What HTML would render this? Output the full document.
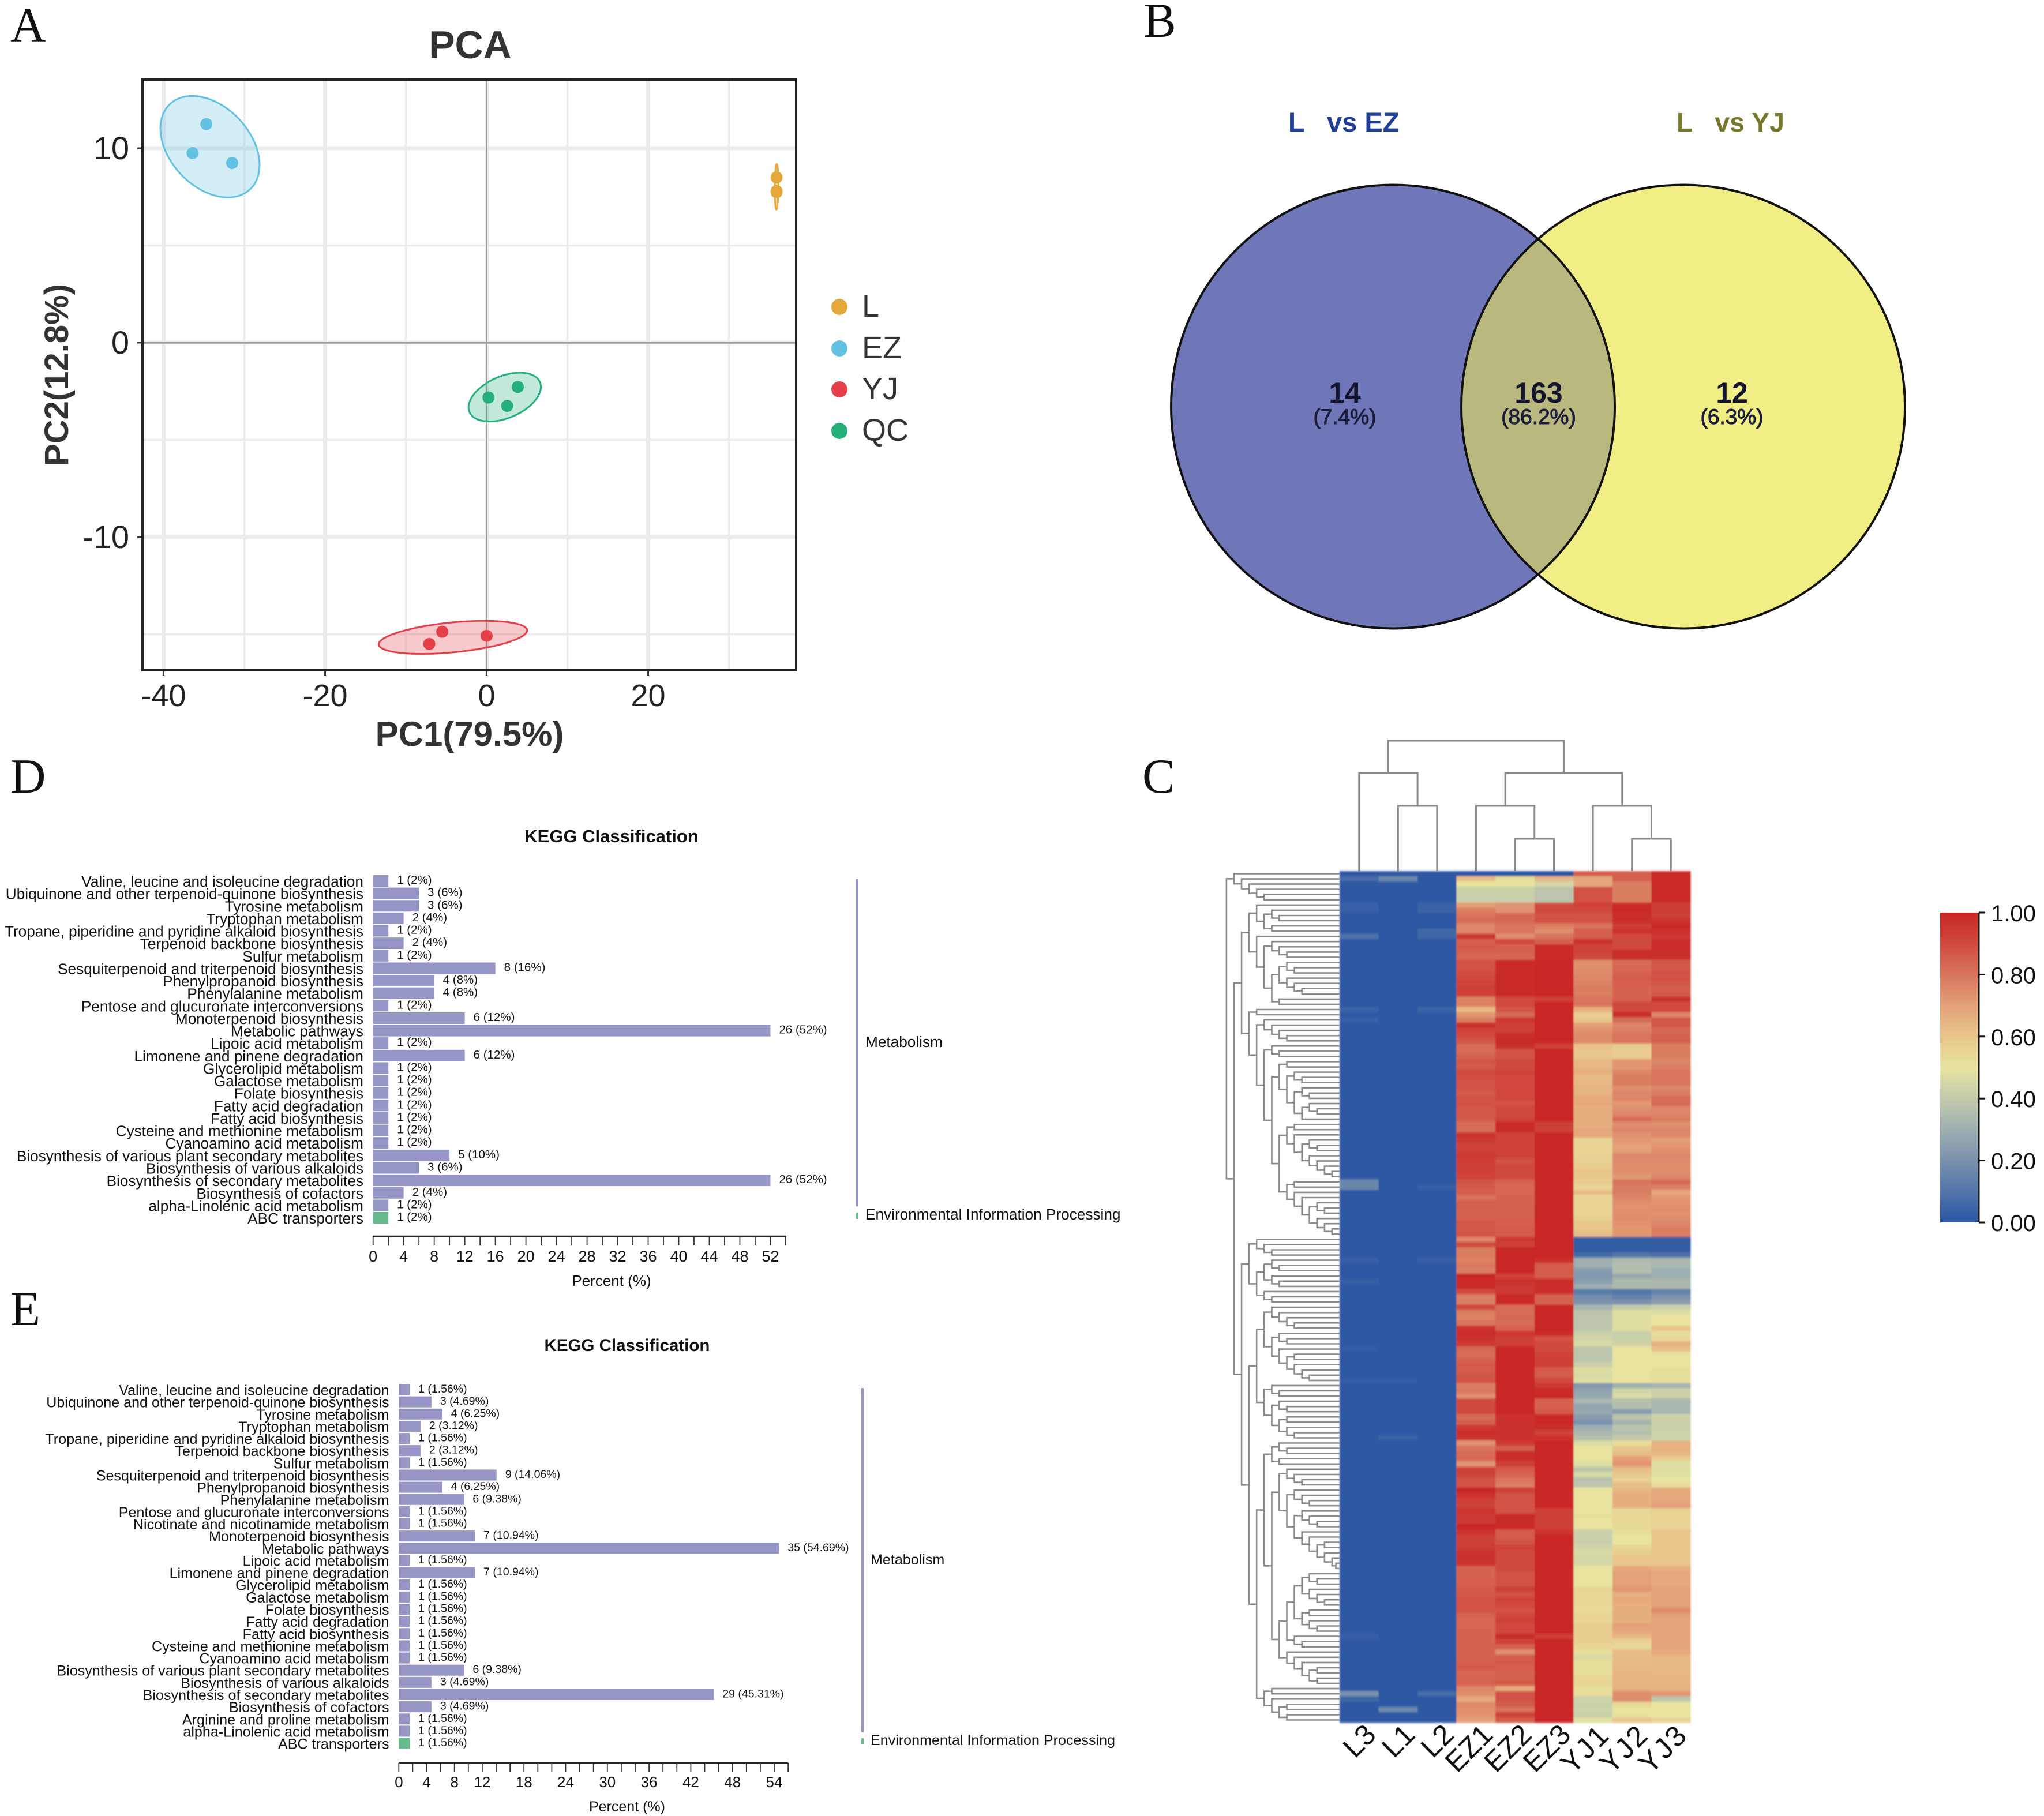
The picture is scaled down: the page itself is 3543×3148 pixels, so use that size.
<!DOCTYPE html>
<html lang="en">
<head>
<meta charset="utf-8">
<title>Metabolomics composite figure</title>
<style>
  html,body{margin:0;padding:0;background:#fff;}
  svg{display:block;}
  text{font-family:"Liberation Sans",Arial,sans-serif;}
  .serif{font-family:"Liberation Serif",serif;}
</style>
</head>
<body>
<svg id="figure" xmlns="http://www.w3.org/2000/svg" width="3543" height="3148" viewBox="0 0 3543 3148">
  <defs>
    <filter id="softCells" x="-2%" y="-2%" width="104%" height="104%"><feGaussianBlur stdDeviation="1 1.8"/></filter>
  </defs>
  <rect width="3543" height="3148" fill="#fff"/>
  <text class="serif" x="18" y="72" font-size="85" fill="#111">A</text>
  <text class="serif" x="1982" y="64" font-size="85" fill="#111">B</text>
  <text class="serif" x="1980" y="1374" font-size="85" fill="#111">C</text>
  <text class="serif" x="18" y="1374" font-size="85" fill="#111">D</text>
  <text class="serif" x="18" y="2297" font-size="85" fill="#111">E</text>
  <g id="pca"></g>
  <g id="venn"></g>
  <g id="heat"></g>
  <g id="keggD"></g>
  <g id="keggE"></g>
</svg>
<script>
/* ---------- PCA data ---------- */
const pcaGroups = ['L','EZ','YJ','QC'];
const pcaColors = ['#e5a83b','#63c2e2','#e5404a','#25b07a'];
const pcaPc1L  = [35.9,35.9,35.9];
const pcaPc2L  = [8.5,7.74,7.8];
const pcaPc1EZ = [-34.7,-36.4,-31.5];
const pcaPc2EZ = [11.24,9.75,9.24];
const pcaPc1YJ = [-5.5,-7.1,0];
const pcaPc2YJ = [-14.87,-15.5,-15.08];
const pcaPc1QC = [3.86,0.23,2.55];
const pcaPc2QC = [-2.28,-2.82,-3.25];
/* confidence ellipses: centre x, centre y, half width, half height, correlation */
const ellipseL  = [35.9,8.02,0.22,1.17,0.1];
const ellipseEZ = [-34.25,10.08,6.14,2.61,-0.36];
const ellipseYJ = [-4.17,-15.16,9.19,0.85,0.42];
const ellipseQC = [2.24,-2.8,4.48,1.256,0.42];
const pcaXMajor = [-40,-20,0,20];
const pcaXMinor = [-30,-10,10,30];
const pcaYMajor = [10,0,-10];
const pcaYMinor = [5,-5,-15];

/* ---------- Venn data ---------- */
const vennSets = ['L   vs EZ','L   vs YJ'];
const vennCounts = [14,163,12];
const vennPercents = ['(7.4%)','(86.2%)','(6.3%)'];

/* ---------- Heatmap data (163 rows, top to bottom) ---------- */
const heatColumns = ['L3','L1','L2','EZ1','EZ2','EZ3','YJ1','YJ2','YJ3'];
const heatBase = 0.01;
const heatL3Raised = [[1,.07],[6,.03],[7,.03],[12,.09],[26,.04],[28,.03],[59,.16],[60,.16],[74,.03],[78,.03],[91,.02],[97,.02],[146,.03],[157,.2],[158,.05]];
const heatL1Raised = [[1,.16],[97,.02],[108,.04],[160,.17]];
const heatL2Raised = [[6,.04],[7,.04],[11,.05],[12,.05],[26,.04],[60,.03],[74,.03],[157,.07]];
const heatEZ1 = [0,.62,.5,.42,.42,.42,.7,.78,.8,.82,
.76,.76,.97,.85,.86,.85,.83,.88,.88,.89,
.9,.92,.93,.93,.77,.77,.63,.72,.78,.98,
.92,.9,.87,.82,.82,.84,.87,.86,.9,.89,
.88,.88,.86,.88,.88,.87,.87,.86,.82,.82,
.97,.95,.92,.93,.95,.94,.93,.93,.92,.87,
.86,.85,.8,.85,.85,.84,.85,.87,.87,.88,
.76,.9,.78,.78,.77,.79,.78,1,.99,.99,
.9,.77,.78,.9,.78,.77,.8,.97,.98,.97,
.95,.83,.82,.84,.86,.86,.87,.88,.78,.79,
.74,.9,.9,.9,.82,.85,.95,.98,.97,.73,
.8,.82,.83,.72,.93,.92,.88,.88,1,.97,
.93,.92,.96,.95,.95,1,.97,.93,.93,.94,
.97,.97,.97,.84,.84,.84,.85,.86,.87,.88,
.88,.88,.84,.83,.83,.84,.84,.84,.84,.84,
.84,.85,.86,.83,.84,.84,.76,.74,.68,.75,
.74,.73,.7];
const heatEZ2 = [0,.52,.5,.42,.42,.42,.73,.73,.83,.83,
.8,.8,.74,.9,.85,.85,.83,.99,.99,.99,
.99,.99,.99,.99,.9,.9,.87,.82,.95,.93,
.93,.98,.99,.98,.88,.88,.9,.9,.92,.91,
.91,.91,.91,.9,.88,.9,.9,.92,.99,.99,
.92,.92,.92,.92,.92,.88,.9,.9,.9,.84,
.83,.83,.84,.84,.85,.84,.85,.85,.86,.86,
.95,.93,1,1,1,1,1,.92,.97,.95,
.95,.99,.99,.82,.82,.83,.82,.84,.95,.93,
.93,1,1,1,1,1,1,1,1,1,
1,1,1,1,.97,.97,.97,.97,.97,.95,
.85,.98,.98,.93,.86,.84,.8,.78,.92,.88,
.88,.88,.88,.99,.99,.99,.86,.86,.88,.92,
.9,.9,.9,.9,.88,.88,.88,.94,.88,.92,
.9,.88,.91,.92,.91,.91,.98,.92,.85,.74,
.86,.86,.85,.84,.85,.86,.68,.88,.88,.86,
.8,.92,.86];
const heatEZ3 = [0,.64,.45,.38,.38,.38,.9,.9,.88,.88,
.78,.74,.8,.85,.99,.99,.99,1,1,1,
1,1,1,1,.93,1,1,1,1,1,
1,1,1,.93,1,1,1,1,1,1,
1,1,1,1,1,1,1,1,.93,.93,
1,1,1,1,1,1,1,1,1,1,
1,1,1,1,1,1,1,1,1,1,
1,1,1,1,.98,.86,.86,.86,.98,.98,
.98,.84,.84,1,1,1,1,1,.99,.88,
.9,.9,.92,.93,.93,.86,.86,.9,.95,.99,
.99,.85,.84,.86,1,.99,.98,.92,.97,1,
1,1,1,1,1,1,1,1,1,1,
1,1,.93,.93,.93,.93,.96,1,1,1,
1,1,1,1,1,1,1,1,1,1,
1,1,1,1,1,1,.93,1,1,1,
1,1,1,1,1,1,1,1,1,1,
1,1,1];
const heatYJ1 = [.85,.68,.68,.88,.88,.88,.92,.9,.88,.88,
.8,.85,.85,.97,.92,.92,.9,.74,.74,.75,
.76,.77,.78,.78,.8,.8,.66,.58,.6,.7,
.73,.75,.75,.61,.6,.6,.64,.64,.66,.63,
.64,.65,.65,.67,.67,.66,.66,.66,.66,.68,
.68,.55,.55,.55,.56,.57,.58,.6,.6,.58,
.55,.62,.55,.55,.55,.55,.57,.6,.6,.62,
.02,.02,.02,.06,.3,.3,.24,.22,.24,.3,
.12,.18,.2,.32,.38,.38,.38,.38,.42,.44,
.46,.38,.38,.38,.42,.47,.46,.47,.22,.26,
.28,.33,.27,.28,.24,.2,.3,.33,.36,.46,
.5,.5,.5,.48,.38,.46,.37,.38,.5,.5,
.5,.5,.5,.52,.5,.5,.42,.42,.42,.44,
.46,.45,.45,.5,.5,.5,.5,.55,.54,.54,
.54,.53,.55,.55,.58,.58,.58,.57,.55,.52,
.46,.52,.52,.52,.54,.55,.52,.52,.43,.42,
.43,.42,.48];
const heatYJ2 = [.85,.85,.78,.78,.78,.78,.99,.99,.98,.98,
.93,.97,.9,.9,.9,.98,.98,.82,.83,.84,
.86,.85,.84,.84,.85,.9,.9,.98,.82,.76,
.78,.8,.8,.58,.58,.58,.72,.72,.76,.78,
.78,.74,.76,.76,.72,.74,.76,.82,.74,.76,
.73,.72,.7,.7,.76,.75,.74,.74,.72,.8,
.78,.78,.76,.74,.73,.74,.74,.73,.72,.72,
.02,.02,.02,.1,.34,.36,.36,.28,.34,.34,
.1,.14,.2,.4,.48,.48,.48,.48,.42,.42,
.43,.5,.5,.5,.5,.5,.5,.5,.3,.44,
.46,.36,.36,.24,.38,.32,.38,.36,.4,.52,
.6,.62,.7,.72,.62,.6,.56,.62,.64,.66,
.66,.66,.54,.54,.54,.54,.52,.5,.5,.55,
.58,.6,.6,.68,.7,.7,.7,.72,.66,.68,
.66,.66,.66,.66,.7,.68,.64,.56,.54,.62,
.63,.63,.64,.65,.65,.65,.66,.74,.74,.54,
.5,.5,.6];
const heatYJ3 = [.99,.99,.99,.99,.99,.99,.94,.94,.93,.97,
.99,.97,.95,.98,.98,.98,.98,.87,.87,.88,
.88,.87,.86,.86,.97,.9,.9,.76,.87,.87,
.83,.84,.85,.78,.78,.78,.76,.78,.8,.8,
.8,.76,.78,.82,.82,.76,.76,.78,.74,.76,
.76,.7,.72,.74,.76,.75,.74,.74,.76,.82,
.78,.68,.72,.73,.74,.73,.74,.76,.78,.78,
.02,.02,.02,.08,.33,.33,.3,.3,.33,.33,
.14,.2,.24,.42,.47,.5,.5,.6,.52,.54,
.66,.62,.5,.5,.5,.52,.52,.52,.32,.42,
.42,.33,.33,.33,.43,.42,.42,.43,.43,.65,
.66,.64,.58,.48,.48,.48,.5,.52,.68,.68,
.68,.7,.56,.56,.56,.56,.6,.6,.6,.6,
.6,.6,.6,.66,.68,.68,.68,.7,.7,.7,
.7,.75,.7,.69,.69,.69,.69,.69,.69,.68,
.64,.64,.64,.64,.65,.65,.66,.72,.38,.5,
.5,.5,.56];
const colorbarValues = [0,.1,.2,.3,.4,.5,.6,.7,.8,.9,1];
const colorbarColors = ['#2b55a3','#5376a9','#7a92ad','#9eafb0','#c2cbab','#e8e4a0','#e8c68c','#e4a077','#d8755c','#d04a3e','#c92825'];
const colorbarTicks = ['0.00','0.20','0.40','0.60','0.80','1.00'];

/* dendrograms: nodes are [level, childA, childB]; 0 is a leaf */
const colDendrogram = [4,[3,0,[2,0,0]],[3,[2,0,[1,0,0]],[2,0,[1,0,0]]]];
const rowCluster1 = [14,0,[13,0,[12,0,[11,0,[10,0,0]]]]];
const rowT1 = [12,[11,0,[10,[9,0,[8,0,0]],[9,0,0]]],[11,0,[10,[9,0,[8,0,[7,0,0]]],[9,[8,[7,0,[6,0,0]],[7,0,[6,0,[5,0,0]]]],[8,0,0]]]]];
const rowT2 = [12,[11,0,0],[11,[10,0,[9,0,[8,0,[7,0,0]]]],[10,[9,0,[8,0,0]],[9,
  [8,[7,0,0],[7,[6,0,[5,0,0]],[6,[5,0,[4,0,0]],[5,[4,0,[3,0,0]],0]]]],
  [8,[7,[6,0,0],[6,0,[5,[4,0,[3,0,0]],[4,0,[3,0,[2,0,[1,0,0]]]]]]],[7,[6,0,0],[6,0,[5,0,[4,[3,0,[2,0,0]],[3,0,[2,0,[1,0,0]]]]]]]]
]]]];
const rowUA = [12,[11,0,[10,0,[9,0,0]]],[11,[10,[9,0,[8,0,0]],[9,0,[8,0,0]]],[10,0,[9,0,0]]]];
const rowV = [11,[10,[9,0,[8,0,[7,0,[6,0,0]]]],[9,[8,0,[7,0,0]],[8,0,[7,[6,0,0],[6,0,[5,0,[4,0,0]]]]]]],[10,[9,0,[8,0,0]],[9,[8,0,[7,0,0]],[8,[7,0,0],[7,0,[6,0,0]]]]]];
const rowXTop = [8,[7,0,[6,0,[5,0,0]]],[7,[6,0,[5,0,[4,0,0]]],[6,[5,0,[4,0,[3,0,0]]],[5,0,[4,0,[3,[2,0,0],[2,0,[1,0,[.5,0,0]]]]]]]]];
const rowXBottom = [8,[7,[6,[5,[4,0,[3,0,0]],[4,0,[3,0,[2,0,0]]]],[5,[4,0,0],[4,0,[3,0,0]]]],[6,0,[5,0,0]]],[7,0,[6,0,[5,0,[4,[3,0,0],[3,0,0]]]]]];
const rowW = [11,[10,[9,[8,0,[7,0,0]],[8,0,0]],[9,rowXTop,rowXBottom]],[10,[9,0,0],[9,0,[8,[7,0,0],[7,0,0]]]]];
const rowDendrogram = [15,rowCluster1,[14,[13,rowT1,rowT2],[13,rowUA,[12,rowV,rowW]]]];

/* ---------- KEGG panel D data ---------- */
const keggDLabels = ['Valine, leucine and isoleucine degradation','Ubiquinone and other terpenoid-quinone biosynthesis','Tyrosine metabolism','Tryptophan metabolism','Tropane, piperidine and pyridine alkaloid biosynthesis','Terpenoid backbone biosynthesis','Sulfur metabolism','Sesquiterpenoid and triterpenoid biosynthesis','Phenylpropanoid biosynthesis','Phenylalanine metabolism','Pentose and glucuronate interconversions','Monoterpenoid biosynthesis','Metabolic pathways','Lipoic acid metabolism','Limonene and pinene degradation','Glycerolipid metabolism','Galactose metabolism','Folate biosynthesis','Fatty acid degradation','Fatty acid biosynthesis','Cysteine and methionine metabolism','Cyanoamino acid metabolism','Biosynthesis of various plant secondary metabolites','Biosynthesis of various alkaloids','Biosynthesis of secondary metabolites','Biosynthesis of cofactors','alpha-Linolenic acid metabolism','ABC transporters'];
const keggDCounts = [1,3,3,2,1,2,1,8,4,4,1,6,26,1,6,1,1,1,1,1,1,1,5,3,26,2,1,1];
const keggDPercents = [2,6,6,4,2,4,2,16,8,8,2,12,52,2,12,2,2,2,2,2,2,2,10,6,52,4,2,2];
const keggDTicks = [0,4,8,12,16,20,24,28,32,36,40,44,48,52];

/* ---------- KEGG panel E data ---------- */
const keggELabels = ['Valine, leucine and isoleucine degradation','Ubiquinone and other terpenoid-quinone biosynthesis','Tyrosine metabolism','Tryptophan metabolism','Tropane, piperidine and pyridine alkaloid biosynthesis','Terpenoid backbone biosynthesis','Sulfur metabolism','Sesquiterpenoid and triterpenoid biosynthesis','Phenylpropanoid biosynthesis','Phenylalanine metabolism','Pentose and glucuronate interconversions','Nicotinate and nicotinamide metabolism','Monoterpenoid biosynthesis','Metabolic pathways','Lipoic acid metabolism','Limonene and pinene degradation','Glycerolipid metabolism','Galactose metabolism','Folate biosynthesis','Fatty acid degradation','Fatty acid biosynthesis','Cysteine and methionine metabolism','Cyanoamino acid metabolism','Biosynthesis of various plant secondary metabolites','Biosynthesis of various alkaloids','Biosynthesis of secondary metabolites','Biosynthesis of cofactors','Arginine and proline metabolism','alpha-Linolenic acid metabolism','ABC transporters'];
const keggECounts = [1,3,4,2,1,2,1,9,4,6,1,1,7,35,1,7,1,1,1,1,1,1,1,6,3,29,3,1,1,1];
const keggEPercents = [1.56,4.69,6.25,3.12,1.56,3.12,1.56,14.06,6.25,9.38,1.56,1.56,10.94,54.69,1.56,10.94,1.56,1.56,1.56,1.56,1.56,1.56,1.56,9.38,4.69,45.31,4.69,1.56,1.56,1.56];
const keggETicks = [0,4,8,12,18,24,30,36,42,48,54];

/* ---------- helpers ---------- */
const NS = 'http://www.w3.org/2000/svg';
function mk(tag, attrs, parent, txt){
  const e = document.createElementNS(NS, tag);
  for (const k in attrs) e.setAttribute(k, attrs[k]);
  if (txt !== undefined) e.textContent = txt;
  parent.appendChild(e);
  return e;
}

/* ---------- PCA ---------- */
(function(){
  const g = document.getElementById('pca');
  const X = v => 843.5 + 14 * v;
  const Y = v => 594 - 33.7 * v;
  const L = 247, R = 1380, T = 138, B = 1162;
  pcaXMinor.forEach(v => {
    const e = mk('line',{x1:X(v),x2:X(v),y1:T,y2:B,stroke:'#ececec','stroke-width':3.5},g);
    
    
  });
  pcaYMinor.forEach(v => {
    const e = mk('line',{x1:L,x2:R,y1:Y(v),y2:Y(v),stroke:'#ececec','stroke-width':3.5},g);
    
    
  });
  pcaXMajor.forEach(v => {
    const e = mk('line',{x1:X(v),x2:X(v),y1:T,y2:B,stroke:'#ececec','stroke-width':7},g);
    
    
    const t = mk('line',{x1:X(v),x2:X(v),y1:B,y2:B+9,stroke:'#333','stroke-width':3},g);
    
    
    const l = mk('text',{x:X(v),y:1224,'text-anchor':'middle','font-size':54,fill:'#222'},g,String(v));
    
    
  });
  pcaYMajor.forEach(v => {
    const e = mk('line',{x1:L,x2:R,y1:Y(v),y2:Y(v),stroke:'#ececec','stroke-width':7},g);
    
    
    const t = mk('line',{x1:L-9,x2:L,y1:Y(v),y2:Y(v),stroke:'#333','stroke-width':3},g);
    
    
    const l = mk('text',{x:224,y:Y(v)+19,'text-anchor':'end','font-size':56,fill:'#222'},g,String(v));
    
    
  });
  const zx = mk('line',{x1:X(0),x2:X(0),y1:T,y2:B,stroke:'#9a9a9a','stroke-width':3},g);
  
  
  const zy = mk('line',{x1:L,x2:R,y1:Y(0),y2:Y(0),stroke:'#9a9a9a','stroke-width':3.5},g);
  
  

  const ell = [ellipseL,ellipseEZ,ellipseYJ,ellipseQC];
  const xs = [pcaPc1L,pcaPc1EZ,pcaPc1YJ,pcaPc1QC];
  const ys = [pcaPc2L,pcaPc2EZ,pcaPc2YJ,pcaPc2QC];
  pcaGroups.forEach((name,i) => {
    const p = ell[i]; let pts = [];
    const q = Math.sqrt(1 - p[4]*p[4]);
    for (let a = 0; a < 72; a++){
      const t = a / 72 * 2 * Math.PI;
      pts.push(X(p[0] + p[2]*Math.cos(t)).toFixed(1) + ',' + Y(p[1] + p[3]*(p[4]*Math.cos(t) + q*Math.sin(t))).toFixed(1));
    }
    const e = mk('polygon',{points:pts.join(' '),fill:pcaColors[i],'fill-opacity':.28,stroke:pcaColors[i],'stroke-width':3},g);
    
    
    xs[i].forEach((x,j) => {
      const c = mk('circle',{cx:X(x),cy:Y(ys[i][j]),r:10.5,fill:pcaColors[i]},g);
      
      
    });
    const ly = [532,604,675,747][i];
    const lc = mk('circle',{cx:1455,cy:ly,r:14,fill:pcaColors[i]},g);
    
    
    const lt = mk('text',{x:1494,y:ly+17,'font-size':54,fill:'#333'},g,name);
    
    
  });
  const f = mk('rect',{x:L,y:T,width:R-L,height:B-T,fill:'none',stroke:'#222','stroke-width':4},g);
  
  
  const tt = mk('text',{x:815,y:101,'text-anchor':'middle','font-size':68,'font-weight':'bold',fill:'#333'},g,'PCA');
  
  
  const xt = mk('text',{x:814,y:1293,'text-anchor':'middle','font-size':60,'font-weight':'bold',fill:'#333'},g,'PC1(79.5%)');
  
  
  const yt = mk('text',{x:0,y:0,'text-anchor':'middle','font-size':58,'font-weight':'bold',fill:'#333',transform:'translate(118,650) rotate(-90)'},g,'PC2(12.8%)');
  
  
})();

/* ---------- Venn ---------- */
(function(){
  const g = document.getElementById('venn');
  const cl = {cx:2414.5,cy:705,r:384.5}, cr = {cx:2917.5,cy:705,r:384.5};
  const a = mk('circle',{cx:cl.cx,cy:cl.cy,r:cl.r,fill:'#7077b8'},g);
  
  
  const b = mk('circle',{cx:cr.cx,cy:cr.cy,r:cr.r,fill:'#f1ee85'},g);
  
  
  const cp = mk('clipPath',{id:'vennClip'},g);
  mk('circle',{cx:cl.cx,cy:cl.cy,r:cl.r},cp);
  const o = mk('circle',{cx:cr.cx,cy:cr.cy,r:cr.r,fill:'#b8b87f','clip-path':'url(#vennClip)'},g);
  
  
  const s1 = mk('circle',{cx:cl.cx,cy:cl.cy,r:cl.r,fill:'none',stroke:'#111','stroke-width':4},g);
  
  
  const s2 = mk('circle',{cx:cr.cx,cy:cr.cy,r:cr.r,fill:'none',stroke:'#111','stroke-width':4},g);
  
  
  const t1 = mk('text',{x:2233,y:228,'font-size':47,'font-weight':'bold',fill:'#1f3f98',style:'white-space:pre'},g,vennSets[0]);
  
  
  const t2 = mk('text',{x:2906,y:228,'font-size':46.5,'font-weight':'bold',fill:'#77782a',style:'white-space:pre'},g,vennSets[1]);
  
  
  const cx = [2331,2667,3002];
  vennCounts.forEach((v,i) => {
    const n = mk('text',{x:cx[i],y:698,'text-anchor':'middle','font-size':50,'font-weight':'bold',fill:'#14142e'},g,String(v));
    
    
    const p = mk('text',{x:cx[i],y:735,'text-anchor':'middle','font-size':37,fill:'#1c1c3c',stroke:'#1c1c3c','stroke-width':1},g,vennPercents[i]);
    
    
  });
})();

/* ---------- Heatmap ---------- */
(function(){
  const g = document.getElementById('heat');
  const L = 2322, Rt = 2930, T = 1510, B = 2986;
  const nRows = heatEZ1.length;
  const cw = (Rt - L) / heatColumns.length, rh = (B - T) / nRows;
  const colX = i => L + i * cw;
  const rowY = i => T + i * rh;
  function lookup(list, r){ const f = list.find(p => p[0] === r); return f ? f[1] : heatBase; }
  function mix(v){
    v = Math.max(0, Math.min(1, v));
    const k = Math.min(colorbarValues.length - 2, Math.floor(v * 10));
    const t = (v - colorbarValues[k]) / (colorbarValues[k+1] - colorbarValues[k]);
    const hex = (s,a) => parseInt(s.substr(a,2),16);
    const c = [1,3,5].map(a => Math.round(hex(colorbarColors[k],a) + t*(hex(colorbarColors[k+1],a) - hex(colorbarColors[k],a))));
    return 'rgb(' + c.join(',') + ')';
  }
  const dataCols = [
    r => lookup(heatL3Raised,r), r => lookup(heatL1Raised,r), r => lookup(heatL2Raised,r),
    r => heatEZ1[r], r => heatEZ2[r], r => heatEZ3[r], r => heatYJ1[r], r => heatYJ2[r], r => heatYJ3[r]
  ];
  const cells = mk('g',{filter:'url(#softCells)'},g);
  
  
  dataCols.forEach((fn,c) => {
    for (let r = 0; r < nRows; r++){
      const e = mk('rect',{x:colX(c),y:rowY(r),width:cw+.5,height:rh+.5,fill:mix(fn(r)),'shape-rendering':'crispEdges'},cells);
      
      
    }
  });
  heatColumns.forEach((name,c) => {
    const t = mk('text',{x:0,y:0,'text-anchor':'end','font-size':50,fill:'#111','letter-spacing':name[0]==='Y'?3:0,transform:'translate(' + (colX(c)+cw/2+32) + ',3010) rotate(-45)'},g,name);
    
    
  });

  /* dendrogram drawing */
  let pathC = '', leaf = 0;
  function walkCol(node){
    if (node === 0){ const x = colX(leaf) + cw/2; leaf++; return {p:x, h:T}; }
    const a = walkCol(node[1]), b = walkCol(node[2]);
    const y = [1510,1454,1397,1340,1284][node[0]];
    pathC += 'M' + a.p + ' ' + a.h + 'V' + y + 'H' + b.p + 'V' + b.h;
    return {p:(a.p + b.p)/2, h:y};
  }
  walkCol(colDendrogram);
  const dc = mk('path',{d:pathC,fill:'none',stroke:'#8a8a8a','stroke-width':3},g);
  
  

  let pathR = ''; leaf = 0;
  function walkRow(node){
    if (node === 0){ const y = rowY(leaf) + rh/2; leaf++; return {p:y, h:L}; }
    const a = walkRow(node[1]), b = walkRow(node[2]);
    const x = L - node[0] * 13.07;
    pathR += 'M' + a.h + ' ' + a.p.toFixed(1) + 'H' + x.toFixed(1) + 'V' + b.p.toFixed(1) + 'H' + b.h;
    return {p:(a.p + b.p)/2, h:x.toFixed(1)};
  }
  walkRow(rowDendrogram);
  const dr = mk('path',{d:pathR,fill:'none',stroke:'#8a8a8a','stroke-width':2.6},g);
  
  

  /* colour bar */
  const CT = 1582, CB = 2119;
  const defs = mk('defs',{},g);
  const lg = mk('linearGradient',{id:'cbar',x1:0,y1:1,x2:0,y2:0},defs);
  colorbarValues.forEach((v,i) => mk('stop',{offset:v,'stop-color':colorbarColors[i]},lg));
  const cb = mk('rect',{x:3363,y:CT,width:67,height:CB-CT,fill:'url(#cbar)'},g);
  
  
  const ax = mk('line',{x1:3430,x2:3430,y1:CT,y2:CB,stroke:'#111','stroke-width':3},g);
  
  
  colorbarTicks.forEach(s => {
    const y = CB - parseFloat(s) * (CB - CT);
    const t = mk('line',{x1:3430,x2:3441,y1:y,y2:y,stroke:'#111','stroke-width':3},g);
    
    
    const l = mk('text',{x:3451,y:y+15,'font-size':40,fill:'#111'},g,s);
    
    
  });
})();

/* ---------- KEGG bars ---------- */
function drawKegg(g, labels, counts, percents, ticks, o){
  const n = labels.length;
  const X = v => o.x0 + o.pxPerPct * v;
  const Y = i => o.y0 + i * o.step;
  const title = mk('text',{x:o.cx,y:o.titleY,'text-anchor':'middle','font-size':o.titleSize,'font-weight':'bold',fill:'#111'},g,'KEGG Classification');
  
  
  labels.forEach((lab,i) => {
    const isEnv = i === n - 1;
    const b = mk('rect',{x:X(0),y:Y(i)-o.barH/2,width:X(percents[i])-X(0),height:o.barH,fill:isEnv?'#66bb8c':'#9696c6'},g);
    
    
    const t = mk('text',{x:o.labelX,y:Y(i)+o.labelDy,'text-anchor':'end','font-size':o.labelSize,fill:'#111'},g,lab);
    
    
    const v = mk('text',{x:X(percents[i])+15,y:Y(i)+5,'font-size':o.valueSize,fill:'#111'},g,counts[i] + ' (' + percents[i] + '%)');
    
    
  });
  const ax = mk('line',{x1:X(0),x2:X(o.max),y1:o.axisY,y2:o.axisY,stroke:'#222','stroke-width':2.5},g);
  
  
  for (let v = 0; v <= o.max; v += 2){
    const t = mk('line',{x1:X(v),x2:X(v),y1:o.axisY,y2:o.axisY+16,stroke:'#333','stroke-width':1.8},g);
    
    
  }
  ticks.forEach(v => {
    const t = mk('text',{x:X(v),y:o.tickY,'text-anchor':'middle','font-size':o.tickSize,fill:'#111'},g,String(v));
    
    
  });
  const xt = mk('text',{x:o.cx,y:o.axisTitleY,'text-anchor':'middle','font-size':o.axisTitleSize,fill:'#111'},g,'Percent (%)');
  
  
  const side = mk('line',{x1:o.sideX,x2:o.sideX,y1:Y(0)-3,y2:Y(n-2)+2,stroke:'#9696c8','stroke-width':4},g);
  
  
  const sideG = mk('line',{x1:o.sideX,x2:o.sideX,y1:Y(n-1)-9,y2:Y(n-1)+2,stroke:'#66bb8c','stroke-width':4},g);
  
  
  const m = mk('text',{x:o.sideX+14,y:(Y(0)+Y(n-2))/2+7,'font-size':o.labelSize,fill:'#111'},g,'Metabolism');
  
  
  const en = mk('text',{x:o.sideX+14,y:Y(n-1)+3,'font-size':o.labelSize,fill:'#111'},g,'Environmental Information Processing');
  
  
}
drawKegg(document.getElementById('keggD'), keggDLabels, keggDCounts, keggDPercents, keggDTicks, {
  x0:646.7, pxPerPct:13.245, y0:1527, step:21.63, barH:20, labelX:630, labelDy:10, labelSize:26.2, valueSize:20.5,
  max:54, axisY:2143, tickY:2187, tickSize:27, axisTitleSize:26, axisTitleY:2229, cx:1060, titleY:1460, titleSize:31, sideX:1486
});
drawKegg(document.getElementById('keggE'), keggELabels, keggECounts, keggEPercents, keggETicks, {
  x0:691.3, pxPerPct:12.05, y0:2409, step:21.14, barH:19, labelX:674.5, labelDy:9.5, labelSize:25.1, valueSize:19.5,
  max:56, axisY:3056, tickY:3098, tickSize:26, axisTitleSize:25, axisTitleY:3140, cx:1087, titleY:2342, titleSize:29.5, sideX:1495
});
</script>
</body>
</html>
